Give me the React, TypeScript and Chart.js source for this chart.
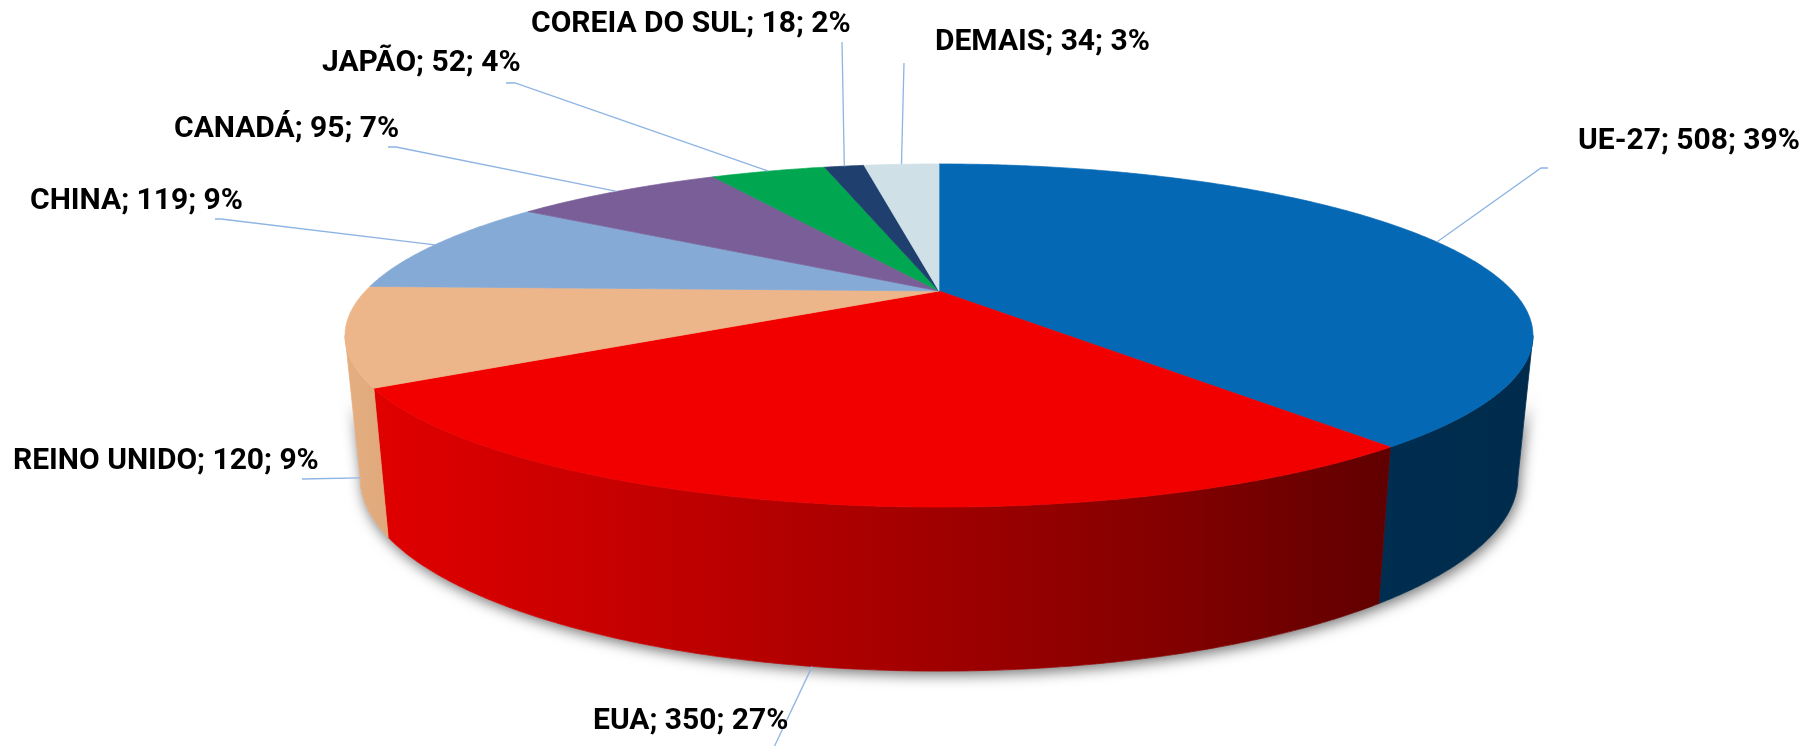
import React, { useEffect, useRef } from "react";
import { Chart, registerables } from "chart.js";

Chart.register(...registerables);

// ---- data ----
const categories = ["UE-27", "EUA", "REINO UNIDO", "CHINA", "CANADÁ", "JAPÃO", "COREIA DO SUL", "DEMAIS"];
const values = [508, 350, 120, 119, 95, 52, 18, 34];
const percentLabels = ["39%", "27%", "9%", "9%", "7%", "4%", "2%", "3%"];

// ---- styles ----
const topColors = ["#0468B4", "#F20000", "#EDB68A", "#86AAD6", "#7A5E97", "#00A650", "#1F3F6E", "#CFE1E6"];
const sideStops: string[][] = [
  ["#002E50", "#002B4C"],
  ["#E00000", "#C30000", "#A20000", "#850000", "#600000"],
  ["#E4AE80", "#E0A97B"],
  ["#6F8FB8", "#6A8AB2"],
  ["#644C80", "#60487A"],
  ["#008A42", "#00853F"],
  ["#16305A", "#142C55"],
  ["#B5C8CF", "#B0C3CA"],
];

// label placement (canvas px): text left x, baseline y, leader start, optional elbow, anchor on pie
const labelLayout = [
  { x: 1578, y: 149, sx: 1548, sy: 168, ex: 1541, ey: 168, anchor: "top" },
  { x: 593, y: 729, sx: 767, sy: 762, anchor: "bottom" },
  { x: 13, y: 469, sx: 302, sy: 479, anchor: "bottom" },
  { x: 30, y: 209, sx: 215, sy: 219, ex: 221, ey: 219, anchor: "top" },
  { x: 174, y: 137, sx: 388, sy: 147, ex: 396, ey: 147, anchor: "top" },
  { x: 322, y: 71, sx: 506, sy: 83, ex: 515, ey: 83, anchor: "top" },
  { x: 531, y: 32, sx: 842, sy: 42, anchor: "top" },
  { x: 935, y: 50, sx: 904, sy: 63, anchor: "top" },
];

// perspective constants (relative to Chart.js outer radius)
const K = 0.2595;
const REF_R = 291;

const pie3d = {
  id: "pie3d",
  beforeDatasetsDraw(chart: any) {
    const ctx: CanvasRenderingContext2D = chart.ctx;
    const meta = chart.getDatasetMeta(0);
    const arcs = meta.data.map((el: any) =>
      el.getProps(["x", "y", "startAngle", "endAngle", "outerRadius"], true)
    );
    if (!arcs.length) return false;
    const cx = arcs[0].x;
    const cy = arcs[0].y;
    const r = arcs[0].outerRadius;
    const s = r / REF_R;
    const A = 573.6 * s, B = 160 * s, Ab = 559 * s, Bb = 180 * s, dY = 137 * s;

    const topPt = (t: number) => {
      const w = 1 - K * Math.sin(t);
      return [cx + (A * Math.cos(t)) / w, cy + (B * Math.sin(t)) / w];
    };
    const botPt = (t: number) => {
      const w = 1 - K * Math.sin(t);
      return [cx + (Ab * Math.cos(t)) / w, cy + dY + (Bb * Math.sin(t)) / w];
    };
    const samples = (a: number, b: number) => {
      const n = Math.max(2, Math.ceil((b - a) / (Math.PI / 360)));
      const out: number[] = [];
      for (let i = 0; i <= n; i++) out.push(a + ((b - a) * i) / n);
      return out;
    };

    const ts = Math.asin(K);
    const wallA = ts, wallB = Math.PI - ts;

    ctx.save();
    // soft shadow under the wall silhouette
    ctx.save();
    ctx.beginPath();
    const tb = samples(wallA, wallB);
    tb.forEach((t, i) => {
      const p = botPt(t);
      i === 0 ? ctx.moveTo(p[0], p[1]) : ctx.lineTo(p[0], p[1]);
    });
    tb.slice().reverse().forEach((t) => {
      const p = topPt(t);
      const q = botPt(t);
      ctx.lineTo(p[0] + (q[0] - p[0]) * 0.35, p[1] + (q[1] - p[1]) * 0.35);
    });
    ctx.closePath();
    ctx.shadowColor = "rgba(0,0,0,0.55)";
    ctx.shadowBlur = 14;
    ctx.shadowOffsetX = 2;
    ctx.shadowOffsetY = 4;
    ctx.fillStyle = "#ffffff";
    ctx.fill();
    ctx.restore();

    // side walls
    arcs.forEach((arc: any, i: number) => {
      const a = Math.max(arc.startAngle, wallA);
      const b = Math.min(arc.endAngle, wallB);
      if (b <= a) return;
      const ts2 = samples(a, b);
      const tops = ts2.map(topPt);
      const bots = ts2.map(botPt).reverse();
      const pts = tops.concat(bots);
      let minX = Infinity, maxX = -Infinity;
      pts.forEach((p) => { minX = Math.min(minX, p[0]); maxX = Math.max(maxX, p[0]); });
      const stops = sideStops[i];
      const g = ctx.createLinearGradient(minX, 0, maxX, 0);
      if (stops.length === 5) {
        const pos = [0, 0.27, 0.54, 0.77, 1];
        stops.forEach((c, j) => g.addColorStop(pos[j], c));
      } else {
        stops.forEach((c, j) => g.addColorStop(j / (stops.length - 1), c));
      }
      ctx.beginPath();
      pts.forEach((p, j) => (j === 0 ? ctx.moveTo(p[0], p[1]) : ctx.lineTo(p[0], p[1])));
      ctx.closePath();
      ctx.fillStyle = g;
      ctx.fill();
      ctx.strokeStyle = g;
      ctx.lineWidth = 0.8;
      ctx.stroke();
    });

    // top surface
    arcs.forEach((arc: any, i: number) => {
      ctx.beginPath();
      ctx.moveTo(cx, cy);
      samples(arc.startAngle, arc.endAngle).forEach((t) => {
        const p = topPt(t);
        ctx.lineTo(p[0], p[1]);
      });
      ctx.closePath();
      ctx.fillStyle = topColors[i];
      ctx.fill();
      ctx.strokeStyle = topColors[i];
      ctx.lineWidth = 0.7;
      ctx.stroke();
    });

    // leader lines + labels
    ctx.strokeStyle = "#8EB4E3";
    ctx.lineWidth = 1.3;
    arcs.forEach((arc: any, i: number) => {
      const L: any = labelLayout[i];
      const mid = (arc.startAngle + arc.endAngle) / 2;
      const p = L.anchor === "bottom" ? botPt(mid) : topPt(mid);
      ctx.beginPath();
      ctx.moveTo(L.sx, L.sy);
      if (L.ex !== undefined) ctx.lineTo(L.ex, L.ey);
      ctx.lineTo(p[0], p[1]);
      ctx.stroke();
    });
    ctx.fillStyle = "#000";
    ctx.font = "bold 30px Roboto";
    ctx.textBaseline = "alphabetic";
    ctx.textAlign = "left";
    categories.forEach((c, i) => {
      const L = labelLayout[i];
      ctx.fillText(`${c}; ${values[i]}; ${percentLabels[i]}`, L.x, L.y);
    });
    ctx.restore();
    return false;
  },
};

export default function App() {
  const ref = useRef<HTMLCanvasElement>(null);
  useEffect(() => {
    const chart = new Chart(ref.current as HTMLCanvasElement, {
      type: "pie",
      data: {
        labels: categories,
        datasets: [
          {
            data: values,
            backgroundColor: topColors,
            borderWidth: 0,
          },
        ],
      },
      options: {
        responsive: false,
        animation: false,
        devicePixelRatio: 1,
        layout: { padding: { left: 62, right: 0, top: 0, bottom: 164 } },
        plugins: {
          legend: { display: false },
          tooltip: { enabled: false },
        },
      },
      plugins: [pie3d],
    });
    return () => chart.destroy();
  }, []);
  return (
    <div style={{ position: "fixed", left: 0, top: 0, width: 1816, height: 746, background: "#fff" }}>
      <canvas ref={ref} width={1816} height={746} style={{ display: "block", width: 1816, height: 746 }} />
    </div>
  );
}
